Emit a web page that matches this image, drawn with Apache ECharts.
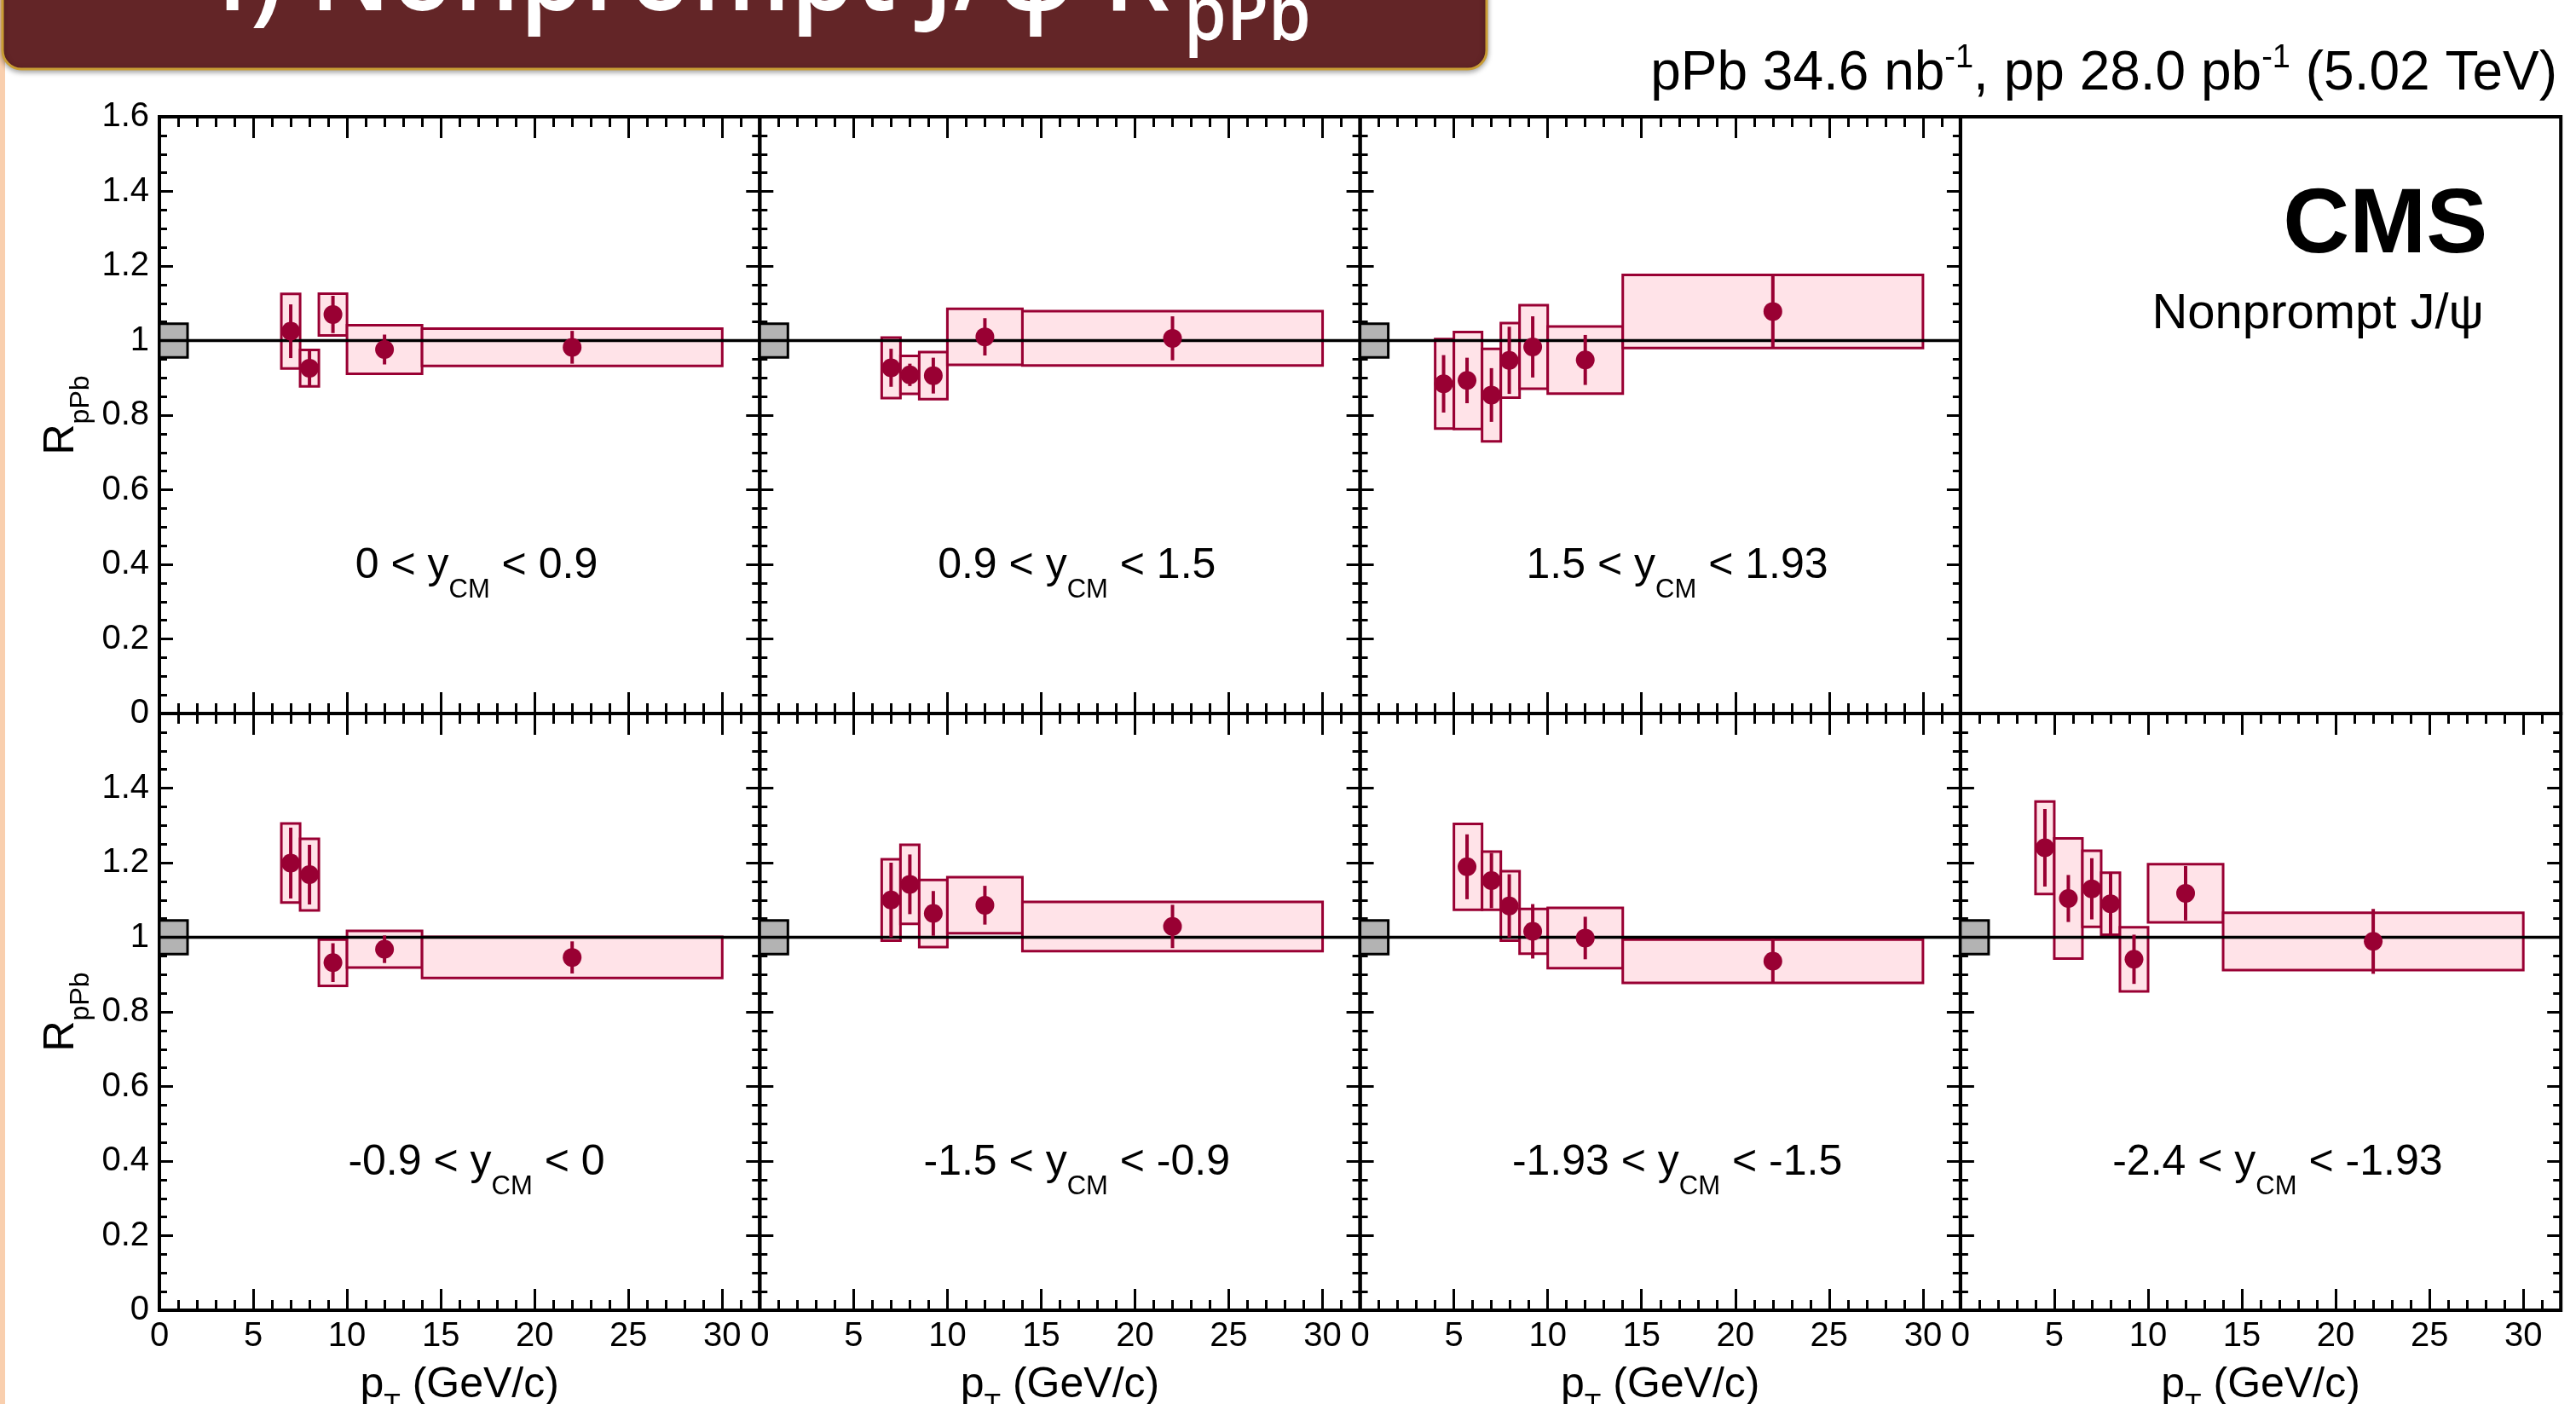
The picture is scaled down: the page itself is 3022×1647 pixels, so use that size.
<!DOCTYPE html>
<html>
<head>
<meta charset="utf-8">
<script src="https://cdn.jsdelivr.net/npm/echarts/dist/echarts.min.js"></script>
<style>
html,body{margin:0;padding:0;background:#ffffff;overflow:hidden}
#chart{width:3022px;height:1647px}
</style>
</head>
<body>
<div id="chart"></div>
<script>
// ================= DATA =================
const xTickLabels = [0, 5, 10, 15, 20, 25, 30];
const yTickLabels = [0, 0.2, 0.4, 0.6, 0.8, 1, 1.2, 1.4, 1.6];
const xRange = [0, 32];
const yRange = [0, 1.6];
const refLine = 1;
const globalBoxPt = [0, 1.5];   // pT extent of the global-uncertainty box
const globalUnc = 0.045;        // half height of the global-uncertainty box

// rapidity bins (panel labels)
const rapLow  = ['0',   '0.9', '1.5',  '-0.9', '-1.5', '-1.93', '-2.4'];
const rapHigh = ['0.9', '1.5', '1.93', '0',    '-0.9', '-1.5',  '-1.93'];

// panel 1 : 0 < yCM < 0.9
const ptLo1   = [6.5, 7.5, 8.5, 10, 14];
const ptHi1   = [7.5, 8.5, 10, 14, 30];
const ptMean1 = [7.0, 8.0, 9.25, 12.0, 22.0];
const rpa1    = [1.025, 0.926, 1.070, 0.976, 0.982];
const stat1   = [0.072, 0.050, 0.050, 0.040, 0.044];
const syst1   = [0.100, 0.049, 0.056, 0.065, 0.050];

// panel 2 : 0.9 < yCM < 1.5
const ptLo2   = [6.5, 7.5, 8.5, 10, 14];
const ptHi2   = [7.5, 8.5, 10, 14, 30];
const ptMean2 = [7.0, 8.0, 9.25, 12.0, 22.0];
const rpa2    = [0.927, 0.908, 0.906, 1.010, 1.006];
const stat2   = [0.051, 0.030, 0.048, 0.050, 0.059];
const syst2   = [0.081, 0.051, 0.063, 0.075, 0.073];

// panel 3 : 1.5 < yCM < 1.93
const ptLo3   = [4, 5, 6.5, 7.5, 8.5, 10, 14];
const ptHi3   = [5, 6.5, 7.5, 8.5, 10, 14, 30];
const ptMean3 = [4.45, 5.7, 7.0, 7.95, 9.2, 12.0, 22.0];
const rpa3    = [0.884, 0.893, 0.854, 0.947, 0.983, 0.948, 1.078];
const stat3   = [0.077, 0.061, 0.072, 0.090, 0.082, 0.067, 0.098];
const syst3   = [0.120, 0.130, 0.124, 0.100, 0.112, 0.090, 0.098];

// panel 4 : -0.9 < yCM < 0
const ptLo4   = [6.5, 7.5, 8.5, 10, 14];
const ptHi4   = [7.5, 8.5, 10, 14, 30];
const ptMean4 = [7.0, 8.0, 9.25, 12.0, 22.0];
const rpa4    = [1.199, 1.168, 0.932, 0.968, 0.946];
const stat4   = [0.095, 0.080, 0.052, 0.037, 0.043];
const syst4   = [0.106, 0.096, 0.062, 0.049, 0.055];

// panel 5 : -1.5 < yCM < -0.9
const ptLo5   = [6.5, 7.5, 8.5, 10, 14];
const ptHi5   = [7.5, 8.5, 10, 14, 30];
const ptMean5 = [7.0, 8.0, 9.25, 12.0, 22.0];
const rpa5    = [1.100, 1.142, 1.064, 1.086, 1.029];
const stat5   = [0.100, 0.080, 0.060, 0.052, 0.058];
const syst5   = [0.109, 0.106, 0.090, 0.075, 0.066];

// panel 6 : -1.93 < yCM < -1.5
const ptLo6   = [5, 6.5, 7.5, 8.5, 10, 14];
const ptHi6   = [6.5, 7.5, 8.5, 10, 14, 30];
const ptMean6 = [5.7, 7.0, 7.95, 9.2, 12.0, 22.0];
const rpa6    = [1.189, 1.152, 1.084, 1.016, 0.998, 0.936];
const stat6   = [0.087, 0.074, 0.085, 0.073, 0.057, 0.060];
const syst6   = [0.115, 0.078, 0.093, 0.060, 0.081, 0.058];

// panel 7 : -2.4 < yCM < -1.93
const ptLo7   = [4, 5, 6.5, 7.5, 8.5, 10, 14];
const ptHi7   = [5, 6.5, 7.5, 8.5, 10, 14, 30];
const ptMean7 = [4.5, 5.75, 7.0, 8.0, 9.25, 12.0, 22.0];
const rpa7    = [1.240, 1.104, 1.130, 1.090, 0.941, 1.118, 0.989];
const stat7   = [0.104, 0.063, 0.082, 0.085, 0.066, 0.073, 0.087];
const syst7   = [0.124, 0.161, 0.102, 0.083, 0.086, 0.078, 0.077];

// ================= STYLE / LAYOUT =================
const FONT = '"Liberation Sans", Arial, Helvetica, sans-serif';
const RED = '#990033';
const PINK = '#ffe3e8';
const GREY = '#b3b3b3';
const GL = 187, GT = 137, CW = 704.3, CH = 700;
const MID = 0.35;

const panels = [
  {row:0, col:0, lo:ptLo1, hi:ptHi1, mean:ptMean1, r:rpa1, st:stat1, sy:syst1, k:0},
  {row:0, col:1, lo:ptLo2, hi:ptHi2, mean:ptMean2, r:rpa2, st:stat2, sy:syst2, k:1},
  {row:0, col:2, lo:ptLo3, hi:ptHi3, mean:ptMean3, r:rpa3, st:stat3, sy:syst3, k:2},
  {row:0, col:3, empty:true},
  {row:1, col:0, lo:ptLo4, hi:ptHi4, mean:ptMean4, r:rpa4, st:stat4, sy:syst4, k:3},
  {row:1, col:1, lo:ptLo5, hi:ptHi5, mean:ptMean5, r:rpa5, st:stat5, sy:syst5, k:4},
  {row:1, col:2, lo:ptLo6, hi:ptHi6, mean:ptMean6, r:rpa6, st:stat6, sy:syst6, k:5},
  {row:1, col:3, lo:ptLo7, hi:ptHi7, mean:ptMean7, r:rpa7, st:stat7, sy:syst7, k:6}
];

function fmtY(v){ const t = yTickLabels.find(u => Math.abs(u - v) < 1e-6); return t === undefined ? '' : String(t); }
function fmtX(v){ return xTickLabels.indexOf(Math.round(v*1000)/1000) >= 0 ? String(Math.round(v)) : ''; }

function boxRender(fill, stroke, lw){
  return function(params, api){
    const lo = api.value(0), hi = api.value(1), c = api.value(2), h = api.value(3);
    const a = api.coord([lo, c + h]), b = api.coord([hi, c - h]);
    return {type:'rect', shape:{x:a[0], y:a[1], width:b[0]-a[0], height:b[1]-a[1]},
            style:{fill:fill, stroke:stroke, lineWidth:lw}};
  };
}
function errRender(params, api){
  const x = api.value(0), c = api.value(1), e = api.value(2);
  const a = api.coord([x, c + e]), b = api.coord([x, c - e]);
  return {type:'line', shape:{x1:a[0], y1:a[1], x2:b[0], y2:b[1]}, style:{stroke:RED, lineWidth:4}};
}

const grids = [], xAxes = [], yAxes = [], series = [];
const tick = (len) => ({show:true, inside:true, length:len, lineStyle:{color:'#000', width:3}});

panels.forEach((p, gi) => {
  grids.push({left: GL + p.col*CW, top: GT + p.row*CH, width: CW, height: CH,
    show:true, borderColor:'#000', borderWidth:4, backgroundColor:'rgba(0,0,0,0)',
    containLabel:false, outerBoundsMode:'none'});
  if (p.empty) {
    xAxes.push({gridIndex:gi, type:'value', min:xRange[0], max:xRange[1], show:false});
    yAxes.push({gridIndex:gi, type:'value', min:yRange[0], max:yRange[1], show:false});
    return;
  }
  const xi = xAxes.length, yi = yAxes.length;
  ['bottom','top'].forEach(pos => {
    xAxes.push({gridIndex:gi, type:'value', position:pos, min:xRange[0], max:xRange[1], interval:5,
      axisLine:{show:false, onZero:false}, axisTick:tick(25), splitLine:{show:false},
      axisLabel:{show: pos==='bottom' && p.row===1, margin:11, fontSize:40, fontFamily:FONT, color:'#000',
        formatter: fmtX, showMinLabel:true, showMaxLabel:true}});
    xAxes.push({gridIndex:gi, type:'value', position:pos, min:xRange[0], max:xRange[1], interval:1,
      axisLine:{show:false, onZero:false}, axisTick:tick(12), splitLine:{show:false},
      axisLabel:{show:false}});
  });
  ['left','right'].forEach(pos => {
    yAxes.push({gridIndex:gi, type:'value', position:pos, min:yRange[0], max:yRange[1], interval:0.2,
      axisLine:{show:false, onZero:false}, axisTick:tick(16),
      minorTick:{show:true, splitNumber:4, length:9, lineStyle:{color:'#000', width:3}},
      splitLine:{show:false}, minorSplitLine:{show:false},
      axisLabel:{show: pos==='left' && p.col===0, margin:12, fontSize:40, fontFamily:FONT, color:'#000',
        formatter: fmtY, showMinLabel:true, showMaxLabel: p.row===0}});
  });
  const common = {xAxisIndex:xi, yAxisIndex:yi, silent:true, animation:false};
  series.push(Object.assign({type:'custom', z:2, renderItem: boxRender(GREY, '#000', 3),
    data:[[globalBoxPt[0], globalBoxPt[1], refLine, globalUnc]]}, common));
  series.push(Object.assign({type:'custom', z:3, renderItem: boxRender(PINK, RED, 3),
    data: p.lo.map((v,i) => [v, p.hi[i], p.r[i], p.sy[i]])}, common));
  series.push(Object.assign({type:'line', z:4, symbol:'none', lineStyle:{color:'#000', width:3.5},
    data:[[xRange[0], refLine], [xRange[1], refLine]]}, common));
  series.push(Object.assign({type:'custom', z:5, renderItem: errRender,
    data: p.mean.map((v,i) => [v, p.r[i], p.st[i]])}, common));
  series.push(Object.assign({type:'scatter', z:6, symbol:'circle', symbolSize:22, itemStyle:{color:RED, opacity:1},
    data: p.mean.map((v,i) => [v, p.r[i]])}, common));
});

const chart = echarts.init(document.getElementById('chart'), null, {renderer:'canvas'});
chart.setOption({animation:false, backgroundColor:'#ffffff', grid:grids, xAxis:xAxes, yAxis:yAxes, series:series});

// ================= TEXTS =================
const mctx = document.createElement('canvas').getContext('2d');
function fontStr(sz, w, fam){ return (w||'normal') + ' ' + sz + 'px ' + (fam||FONT); }
function measure(t, f){ mctx.font = f; return mctx.measureText(t).width; }
// parts: [text, fontSize, dy (px, + = down), weight]
function run(parts, o){
  const fam = o.family || FONT;
  const fonts = parts.map(p => fontStr(p[1], p[3], fam));
  const widths = parts.map((p,i) => measure(p[0], fonts[i]));
  const total = widths.reduce((a,b)=>a+b, 0);
  let cur = o.align === 'center' ? -total/2 : (o.align === 'right' ? -total : 0);
  const kids = parts.map((p,i) => {
    const el = {type:'text', x:cur, y:(p[2]||0) - MID*p[1], z:110, silent:true,
      style:{text:p[0], font:fonts[i], fill:o.color||'#000', align:'left', verticalAlign:'middle',
             textAlign:'left', textVerticalAlign:'middle'}};
    cur += widths[i];
    return el;
  });
  return {type:'group', x:o.x, y:o.y, rotation:o.rotation||0, scaleX:o.scaleX||1, scaleY:o.scaleY||1,
          z:110, silent:true, children:kids};
}

const g = [];
// left peach stripe and title banner
g.push({type:'rect', shape:{x:0, y:0, width:6, height:1647}, style:{fill:'#f9cfae'}, z:90, silent:true});
g.push({type:'rect', shape:{x:3, y:-40, width:1741, height:121, r:22},
        style:{fill:'#632527', stroke:'#c99d34', lineWidth:3, shadowBlur:6, shadowColor:'rgba(0,0,0,0.35)', shadowOffsetY:2},
        z:95, silent:true});
(function(){
  const fam = '"Open Sans", "Noto Sans", sans-serif';
  const mainT = '4) Nonprompt J/\u03C8 R';
  const fMain = fontStr(130, '600', fam), fSub = fontStr(88, '600', fam);
  const sMain = 1148 / measure(mainT, fMain);
  const sSub = 149 / measure('pPb', fSub);
  g.push({type:'group', x:224, y:20, scaleX:sMain, z:120, silent:true, children:[
    {type:'text', x:0, y:-MID*130, z:120, silent:true,
     style:{text:mainT, font:fMain, fill:'#ffffff', align:'left', verticalAlign:'middle', textAlign:'left', textVerticalAlign:'middle'}}]});
  g.push({type:'group', x:1389, y:53, scaleX:sSub, z:120, silent:true, children:[
    {type:'text', x:0, y:-MID*88, z:120, silent:true,
     style:{text:'pPb', font:fSub, fill:'#ffffff', align:'left', verticalAlign:'middle', textAlign:'left', textVerticalAlign:'middle'}}]});
})();

// luminosity header
g.push(run([['pPb 34.6 nb',64],['-1',38,-28],[', pp 28.0 pb',64],['-1',38,-28],[' (5.02 TeV)',64]],
           {x:3000, y:110, align:'right'}));

// CMS / Nonprompt J/psi in the empty panel
const pC = chart.convertToPixel({gridIndex:3}, [28.1, 1.218]);
g.push(run([['CMS',108,0,'bold']], {x:pC[0], y:pC[1], align:'right'}));
const pN = chart.convertToPixel({gridIndex:3}, [27.9, 1.024]);
g.push(run([['Nonprompt J/\u03C8',58]], {x:pN[0], y:pN[1], align:'right'}));

// rapidity labels
panels.forEach((p, gi) => {
  if (p.empty) return;
  const q = chart.convertToPixel({gridIndex:gi}, [16.9, 0.355]);
  g.push(run([[rapLow[p.k] + ' < y',50],['CM',31,22],[' < ' + rapHigh[p.k],50]], {x:q[0], y:q[1], align:'center'}));
});

// axis titles
[0,1].forEach(row => {
  const gi = row === 0 ? 0 : 4;
  const q = chart.convertToPixel({gridIndex:gi}, [0, 0.8]);
  g.push(run([['R',50],['pPb',32,16]], {x:q[0]-97, y:q[1], align:'center', rotation:Math.PI/2}));
});
[4,5,6,7].forEach(gi => {
  const q = chart.convertToPixel({gridIndex:gi}, [16, 0]);
  g.push(run([['p',50],['T',32,16],[' (GeV/c)',50]], {x:q[0], y:1643, align:'center'}));
});

chart.setOption({graphic:{elements:g}});
</script>
</body>
</html>
